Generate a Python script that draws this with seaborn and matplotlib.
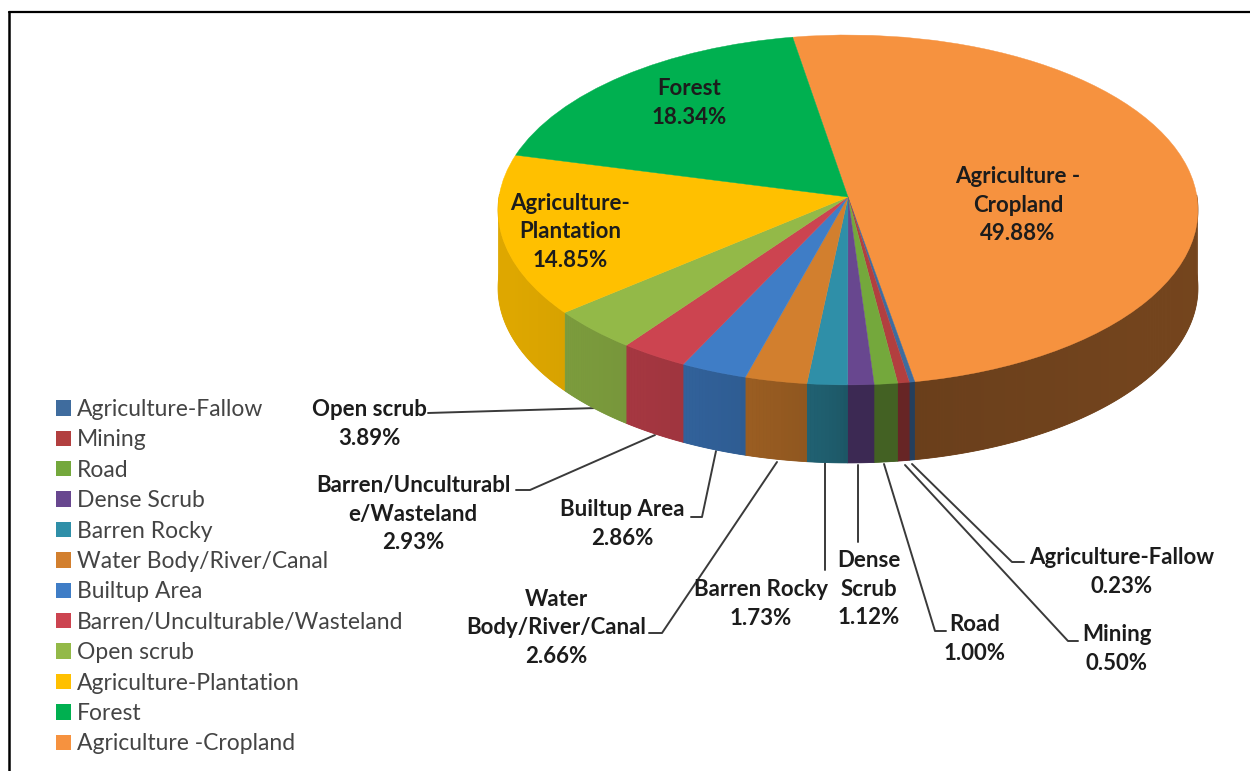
import numpy as np
import matplotlib
matplotlib.use("Agg")
import matplotlib.pyplot as plt
import seaborn as sns
from matplotlib.patches import PathPatch, Patch, Polygon
from matplotlib.path import Path

# Land use shares, clockwise around the pie starting with the largest slice
categories = ["Agriculture -Cropland", "Agriculture-Fallow", "Mining", "Road", "Dense Scrub",
              "Barren Rocky", "Water Body/River/Canal", "Builtup Area",
              "Barren/Unculturable/Wasteland", "Open scrub", "Agriculture-Plantation", "Forest"]
shares = [49.88, 0.23, 0.50, 1.00, 1.12, 1.73, 2.66, 2.86, 2.93, 3.89, 14.85, 18.34]
colors = ["#F6923F", "#3F6C9E", "#B23F3F", "#74A83C", "#68478F", "#2F8FA8",
          "#D27F2E", "#3F7DC6", "#CC4450", "#93B948", "#FFC000", "#00B050"]
legend_order = ["Agriculture-Fallow", "Mining", "Road", "Dense Scrub", "Barren Rocky",
                "Water Body/River/Canal", "Builtup Area", "Barren/Unculturable/Wasteland",
                "Open scrub", "Agriculture-Plantation", "Forest", "Agriculture -Cropland"]

# Slice captions: wrapped text, anchor, and the leader line when the caption sits outside
captions = [
    ("Agriculture -\nCropland\n49.88%", (1018, 205), None),
    ("Forest\n18.34%", (689, 103), None),
    ("Agriculture-\nPlantation\n14.85%", (570, 232), None),
    ("Open scrub\n3.89%", (369, 424), [(428, 413), (597, 408)]),
    ("Barren/Unculturabl\ne/Wasteland\n2.93%", (413, 514), [(516, 490), (530, 490), (655, 435)]),
    ("Builtup Area\n2.86%", (622, 524), [(691, 517), (702, 517), (716, 451)]),
    ("Water\nBody/River/Canal\n2.66%", (556, 628), [(649, 633), (662, 633), (777, 462)]),
    ("Barren Rocky\n1.73%", (761, 604), [(825, 570), (825, 463)]),
    ("Dense\nScrub\n1.12%", (869, 589), [(858, 542), (858, 465)]),
    ("Road\n1.00%", (975, 639), [(946, 631), (935, 631), (884, 464)]),
    ("Mining\n0.50%", (1117, 649), [(1078, 641), (1068, 641), (905, 465)]),
    ("Agriculture-Fallow\n0.23%", (1122, 572), [(1024, 562), (1012, 562), (912, 464)]),
]

sns.set_theme(style="white")
plt.rcParams["font.family"] = ["Lato", "DejaVu Sans"]

fig = plt.figure(figsize=(12.5, 7.71), dpi=100)
ax = fig.add_axes([0, 0, 1, 1])

# Perspective placement of the unit pie on the canvas
CX, CY, RX, RY, TILT, DEPTH = 848.0, 197.0, 349.0, 174.0, 0.074, 78.0


def project(uv):
    uv = np.asarray(uv, dtype=float)
    w = 1 + TILT * uv[:, 1]
    return np.column_stack((CX + RX * uv[:, 0] / w, CY - RY * uv[:, 1] / w))


def wall_shade(angle_rad, floor):
    side = np.cos(angle_rad)
    if side < 0:
        return floor + 0.3 * np.sqrt(-side)
    return floor + (0.06 if floor < 0.5 else 0.0) * side


wedges, _ = ax.pie(shares, colors=colors, startangle=99.8, counterclock=False)
ax.set_aspect("auto")
ax.set_xlim(0, 1250)
ax.set_ylim(771, 0)
ax.set_axis_off()

# The near rim of every slice becomes a wall, darker toward the front
for wedge, color, share in zip(wedges, colors, shares):
    base = np.array(matplotlib.colors.to_rgb(color))
    floor = 0.42 if share == max(shares) else 0.58
    angles = np.linspace(wedge.theta1, wedge.theta2, max(int(wedge.theta2 - wedge.theta1) * 2, 3))
    angles = angles[np.sin(np.radians(angles)) < 0.02]
    if len(angles) < 2:
        continue
    arc = np.radians(angles)
    rim = project(np.column_stack((np.cos(arc), np.sin(arc))))
    backing = np.clip(base * wall_shade(arc.mean(), floor), 0, 1)
    ax.add_patch(Polygon(np.vstack((rim, rim[::-1] + [0, DEPTH])), closed=True,
                         facecolor=backing, edgecolor=backing, linewidth=0.6, zorder=2))
    for i in range(len(arc) - 1):
        shade_rgb = np.clip(base * wall_shade((arc[i] + arc[i + 1]) / 2, floor), 0, 1)
        quad = np.vstack((rim[i:i + 2], rim[i:i + 2][::-1] + [0, DEPTH]))
        ax.add_patch(Polygon(quad, closed=True, facecolor=shade_rgb, edgecolor="none",
                             linewidth=0, zorder=2.1))

# Slice tops go over the walls
for wedge, color in zip(wedges, colors):
    outline = wedge.get_patch_transform().transform_path(wedge.get_path())
    ax.add_patch(PathPatch(Path(project(outline.vertices), outline.codes),
                           facecolor=color, edgecolor=color, linewidth=0.3, zorder=3))
    wedge.remove()

for text, (x, y), leader in captions:
    ax.text(x, y, text, ha="center", va="center", fontsize=16, fontweight="bold",
            color="#1c1c1c", linespacing=1.45, zorder=5)
    if leader:
        xs, ys = zip(*leader)
        ax.plot(xs, ys, color="#3a3a3a", lw=1.4, zorder=1)

# Legend lists the slices from the smallest sliver round to the largest
color_of = dict(zip(categories, colors))
handles = [Patch(facecolor=color_of[n], edgecolor="none", label=n) for n in legend_order]
ax.legend(handles=handles, loc="upper left", bbox_to_anchor=(56 / 1250, 1 - 399 / 771),
          frameon=False, fontsize=16.5, labelcolor="#444444", handlelength=0.65,
          handleheight=0.65, handletextpad=0.28, labelspacing=0.41, borderpad=0, borderaxespad=0)

# Frame lines along the top and left of the canvas
ax.plot([9, 1250], [12, 12], color="black", lw=1.6, zorder=6)
ax.plot([9, 9], [12, 771], color="black", lw=1.8, zorder=6)

fig.savefig("out.png", dpi=100, facecolor="white")
